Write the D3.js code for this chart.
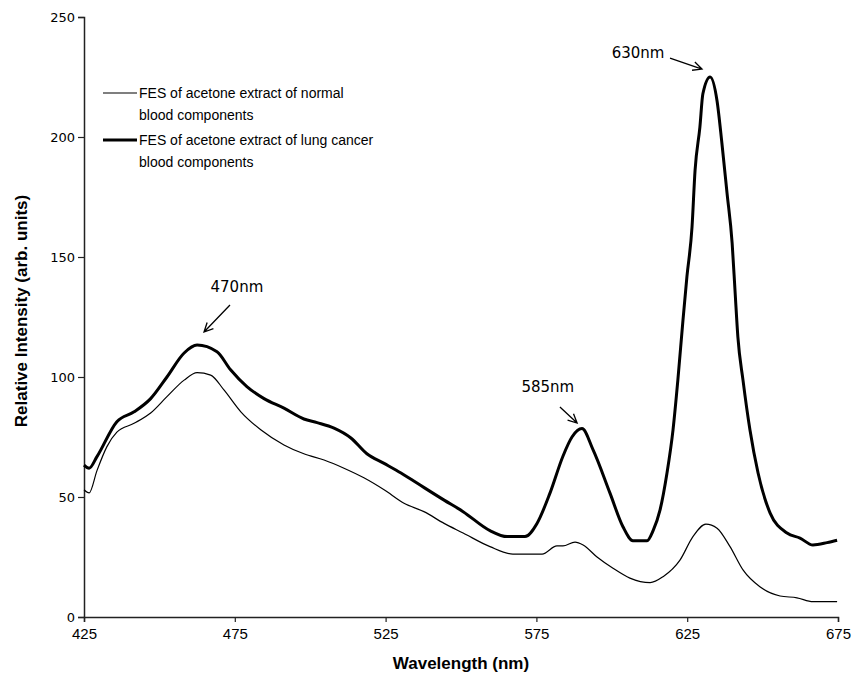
<!DOCTYPE html>
<html lang="en">
<head>
<meta charset="UTF-8">
<title>FES of acetone extract of blood components</title>
<script src="https://d3js.org/d3.v7.min.js"></script>
<style>
  body { margin: 0; background: #fff; }
  svg { display: block; }
</style>
</head>
<body>
<div id="chart"></div>
<script>
// Wavelength (nm) and intensity
const cancerWl = [425.0, 426.7, 429.3, 435.9, 441.6, 447.1, 452.5, 458.2, 462.5, 469.1, 473.6, 479.0, 484.7,
  491.3, 497.9, 502.3, 507.9, 513.5, 518.8, 524.5, 530.1, 535.4, 544.4, 550.7, 559.6, 565.3, 571.2, 575.2,
  579.5, 583.8, 586.8, 590.1, 593.8, 599.4, 603.7, 607.0, 611.7, 613.7, 616.0, 618.3, 620.3, 621.9, 623.6,
  624.9, 626.6, 627.6, 629.2, 630.2, 632.6, 634.9, 636.5, 638.2, 639.9, 640.9, 641.8, 643.5, 645.8, 648.5,
  652.5, 658.1, 662.4, 666.7, 671.4, 674.7];
const cancerVal = [63.3, 62, 66.8, 81.4, 85.5, 91, 100, 110, 113.3, 110.5, 103, 96, 91,
  87, 82.5, 81, 78.7, 74.6, 68, 64, 60, 55.8, 48.7, 43.9, 36, 33.5, 33.5, 39,
  51.6, 67, 75, 78.5, 69.6, 51.6, 37.6, 31.8, 31.8, 36, 44.6, 60, 78, 98.7, 123.7,
  141.7, 162.5, 186, 204, 218, 225, 215, 197.5, 176.7, 155.8, 135, 116.7, 98.7, 78, 60,
  43.3, 35, 32.9, 30, 31, 32];

const normalWl = [425.0, 426.7, 429.3, 432.6, 435.9, 441.6, 447.1, 452.5, 458.2, 462.5, 467.0, 471.4, 477.0,
  483.6, 491.3, 497.9, 504.6, 511.2, 517.8, 524.5, 531.1, 537.7, 544.4, 550.7, 559.6, 567.2, 576.9, 581.8,
  583.8, 587.8, 590.5, 595.1, 600.4, 606.0, 612.7, 617.0, 622.6, 626.9, 631.2, 634.9, 639.2, 643.5, 649.1,
  655.8, 661.4, 666.7, 674.7];
const normalVal = [53, 51.7, 61, 71, 77, 80.7, 85, 91.8, 98.7, 101.8, 100.8, 94.6, 85.5,
  78, 71.7, 68, 65.4, 62, 58, 53, 47.4, 43.9, 39, 35, 29.3, 26.2, 26.2, 29.6,
  29.6, 31.2, 30, 25, 20.3, 16.2, 14.3, 16.8, 23.7, 33.5, 38.7, 37, 29.3, 19.6, 12.6,
  8.75, 8, 6.4, 6.4];

const xTicks = [425, 475, 525, 575, 625, 675];
const yTicks = [0, 50, 100, 150, 200, 250];

const legendLabels = [
  ["FES of acetone extract of normal", "blood components"],
  ["FES of acetone extract of lung cancer", "blood components"]
];

// peak annotations, in data units: label position, arrow tail, arrow tip
const peakLabels = ["470nm", "585nm", "630nm"];
const labelWl = [475.7, 578.8, 608.7];
const labelVal = [137.5, 95.8, 235];
const tailWl = [473.4, 582.8, 619.3];
const tailVal = [130, 87.5, 232.9];
const tipWl = [464.8, 588.5, 629.9];
const tipVal = [118.75, 80.8, 228.3];

const width = 862, height = 676;
const margin = {left: 84, right: 24, top: 17, bottom: 59};

const svg = d3.select("#chart").append("svg")
  .attr("width", width)
  .attr("height", height);

const x = d3.scaleLinear().domain([425, 675]).range([margin.left, width - margin.right]);
const y = d3.scaleLinear().domain([0, 250]).range([height - margin.bottom, margin.top]);

// axes
const yAxis = svg.append("g")
  .attr("transform", `translate(${margin.left},0)`)
  .call(d3.axisLeft(y).tickValues(yTicks).tickSize(6).tickPadding(3));
yAxis.selectAll("text")
  .attr("font-family", "Verdana, 'DejaVu Sans', sans-serif")
  .attr("font-size", "13px")
  .attr("fill", "#000");

const xAxis = svg.append("g")
  .attr("transform", `translate(0,${height - margin.bottom})`)
  .call(d3.axisBottom(x).tickValues(xTicks).tickSize(5).tickPadding(6));
xAxis.selectAll("text")
  .attr("font-family", "'Liberation Sans Narrow', 'Arial Narrow', sans-serif")
  .attr("font-size", "15px")
  .attr("fill", "#000");

svg.selectAll(".domain").attr("stroke", "#222").attr("stroke-width", 1.5);
svg.selectAll(".tick line").attr("stroke", "#222").attr("stroke-width", 1.2);

// axis titles
svg.append("text")
  .attr("x", (margin.left + width - margin.right) / 2)
  .attr("y", 669)
  .attr("text-anchor", "middle")
  .attr("font-family", "'Liberation Sans Narrow', 'Arial Narrow', sans-serif")
  .attr("font-weight", "bold")
  .attr("font-size", "17px")
  .text("Wavelength (nm)");

svg.append("text")
  .attr("transform", `translate(27,${(y(0) + y(250)) / 2 - 6}) rotate(-90)`)
  .attr("text-anchor", "middle")
  .attr("font-family", "'Liberation Sans Narrow', 'Arial Narrow', sans-serif")
  .attr("font-weight", "bold")
  .attr("font-size", "17px")
  .text("Relative Intensity (arb. units)");

// curves
const line = d3.line()
  .x(d => x(d[0]))
  .y(d => y(d[1]))
  .curve(d3.curveMonotoneX);

svg.append("path")
  .datum(d3.zip(normalWl, normalVal))
  .attr("d", line)
  .attr("fill", "none")
  .attr("stroke", "#000")
  .attr("stroke-width", 1.2);

svg.append("path")
  .datum(d3.zip(cancerWl, cancerVal))
  .attr("d", line)
  .attr("fill", "none")
  .attr("stroke", "#000")
  .attr("stroke-width", 3)
  .attr("stroke-linejoin", "round");

// legend
const legendWidths = [1.2, 3];
const legend = svg.append("g").attr("transform", "translate(103,93)");
legendLabels.forEach((lines, i) => {
  const g = legend.append("g").attr("transform", `translate(0,${i * 47})`);
  g.append("line")
    .attr("x1", 0).attr("x2", 34)
    .attr("stroke", "#000")
    .attr("stroke-width", legendWidths[i]);
  lines.forEach((t, j) => {
    g.append("text")
      .attr("x", 36)
      .attr("y", j * 22 + 5)
      .attr("font-family", "'Liberation Sans', Arial, sans-serif")
      .attr("font-size", "14px")
      .text(t);
  });
});

// peak annotations
const ann = svg.append("g");
peakLabels.forEach((lab, i) => {
  ann.append("text")
    .attr("x", x(labelWl[i]))
    .attr("y", y(labelVal[i]) + 5)
    .attr("text-anchor", "middle")
    .attr("font-family", "'DejaVu Sans', Verdana, sans-serif")
    .attr("font-size", "15px")
    .text(lab);

  const x0 = x(tailWl[i]), y0 = y(tailVal[i]);
  const x1 = x(tipWl[i]), y1 = y(tipVal[i]);
  const ang = Math.atan2(y1 - y0, x1 - x0);
  const hl = 10, spread = 0.45;
  ann.append("path")
    .attr("d", `M${x0},${y0}L${x1},${y1}` +
      `M${x1 - hl * Math.cos(ang - spread)},${y1 - hl * Math.sin(ang - spread)}L${x1},${y1}` +
      `L${x1 - hl * Math.cos(ang + spread)},${y1 - hl * Math.sin(ang + spread)}`)
    .attr("fill", "none")
    .attr("stroke", "#000")
    .attr("stroke-width", 1.3);
});
</script>
</body>
</html>
